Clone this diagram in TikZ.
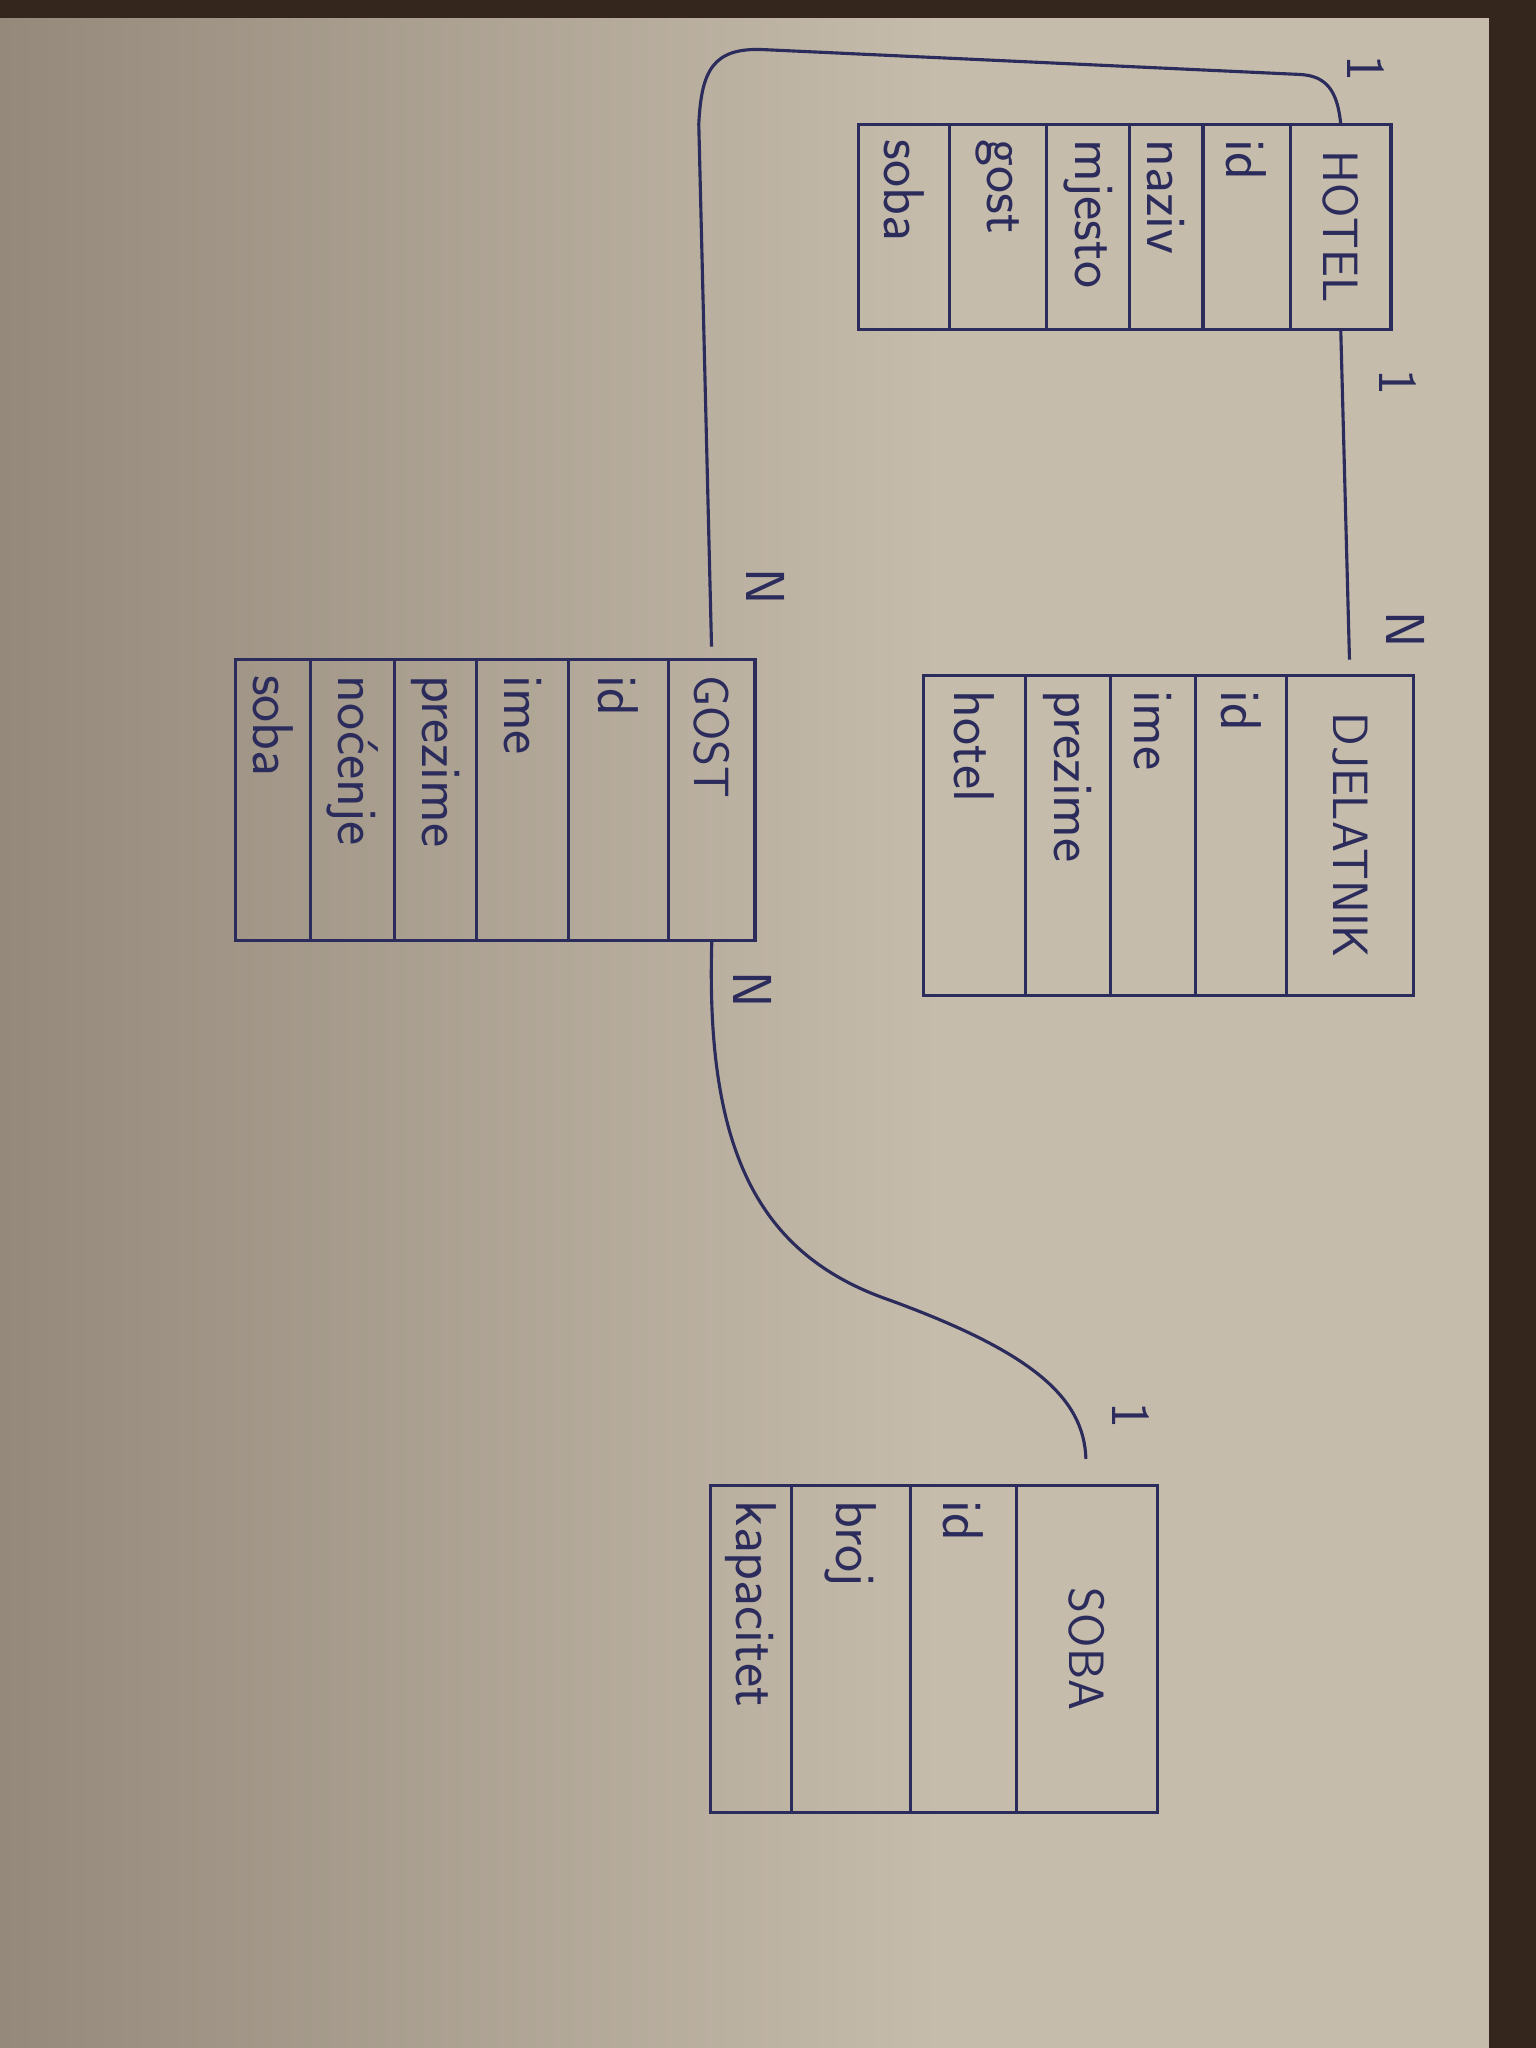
\documentclass[tikz,border=0pt]{standalone}
\usepackage{fontspec}
\usepackage{tikz}
\usetikzlibrary{positioning}

\definecolor{ink}{RGB}{44,44,92}
\definecolor{paper}{RGB}{198,188,172}
\definecolor{paperdark}{RGB}{148,137,122}
\definecolor{wood}{RGB}{52,38,28}

\tikzset{
  field/.style={draw=ink, line width=1.2pt, text=ink, rotate=-90, outer sep=0pt,
    inner xsep=6pt, inner ysep=0pt, align=left,
    font=\sffamily\fontsize{22}{24}\selectfont},
  head/.style={field, align=center, font=\sffamily\fontsize{19}{21}\selectfont},
  card/.style={text=ink, rotate=-90, font=\sffamily\fontsize{21}{23}\selectfont},
  link/.style={ink, line width=1.2pt},
}

\begin{document}
\begin{tikzpicture}[x=0.5pt,y=-0.5pt,
  hotelcol/.style={text width=66.5pt},
  djelcol/.style={text width=110.5pt},
  gostcol/.style={text width=95.5pt},
  sobacol/.style={text width=113.5pt}]
%% paper
\useasboundingbox (0,0) rectangle (1176,1568);
\fill[paper] (0,0) rectangle (1176,1568);
\shade[left color=paperdark, right color=paper] (0,0) rectangle (720,1568);
\fill[wood] (1140,0) rectangle (1176,1568);
\fill[wood] (0,0) rectangle (1176,14);
%% tables (rotated, so 'below' stacks to the left)
\node[head, hotelcol, minimum height=38.5pt] (hotel) at (1026.5,173.5) {HOTEL};
  \node[field, hotelcol, minimum height=33.5pt, below=0pt of hotel] (hotel-id) {id};
  \node[field, hotelcol, minimum height=28pt, below=0pt of hotel-id] (hotel-naziv) {naziv};
  \node[field, hotelcol, minimum height=32pt, below=0pt of hotel-naziv] (hotel-mjesto) {mjesto};
  \node[field, hotelcol, minimum height=37pt, below=0pt of hotel-mjesto] (hotel-gost) {gost};
  \node[field, hotelcol, minimum height=35pt, below=0pt of hotel-gost] (hotel-soba) {soba};
%
\node[head, djelcol, minimum height=48.5pt] (djel) at (1033.5,639.5) {DJELATNIK};
  \node[field, djelcol, minimum height=35pt, below=0pt of djel] (djel-id) {id};
  \node[field, djelcol, minimum height=32.5pt, below=0pt of djel-id] (djel-ime) {ime};
  \node[field, djelcol, minimum height=32.5pt, below=0pt of djel-ime] (djel-prezime) {prezime};
  \node[field, djelcol, minimum height=39pt, below=0pt of djel-prezime] (djel-hotel) {hotel};
%
\node[head, gostcol, align=left, minimum height=33pt] (gost) at (545,612.5) {GOST};
  \node[field, gostcol, minimum height=38.5pt, below=0pt of gost] (gost-id) {id};
  \node[field, gostcol, minimum height=35pt, below=0pt of gost-id] (gost-ime) {ime};
  \node[field, gostcol, minimum height=31.5pt, below=0pt of gost-ime] (gost-prezime) {prezime};
  \node[field, gostcol, minimum height=32pt, below=0pt of gost-prezime] (gost-nocenje) {noćenje};
  \node[field, gostcol, minimum height=29pt, below=0pt of gost-nocenje] (gost-soba) {soba};
%
\node[head, sobacol, minimum height=54pt] (soba) at (832,1262.5) {SOBA};
  \node[field, sobacol, minimum height=40.5pt, below=0pt of soba] (soba-id) {id};
  \node[field, sobacol, minimum height=45.5pt, below=0pt of soba-id] (soba-broj) {broj};
  \node[field, sobacol, minimum height=31pt, below=0pt of soba-broj] (soba-kapacitet) {kapacitet};
%% relations
\draw[link, shorten >=6pt] (hotel.east) -- (djel.west);
\draw[link, shorten >=5pt] (hotel.west) .. controls (1024,70) and (1016,58) .. (995,57)
  -- (585,38) .. controls (545,36) and (537,55) .. (535,95) -- (gost.west);
\draw[link, shorten >=10pt] (gost.east) .. controls (540,880) and (580,960) .. (680,995)
  .. controls (790,1035) and (830,1070) .. (soba.west);
%
\node[card] (hg-one) at (1046,52) {1};
\node[card] (hg-n) at (586,449) {N};
\node[card] (hd-one) at (1070,293) {1};
\node[card] (hd-n) at (1076,482) {N};
\node[card] (gs-n) at (576,758) {N};
\node[card] (gs-one) at (866,1084) {1};
%
\end{tikzpicture}
\end{document}
